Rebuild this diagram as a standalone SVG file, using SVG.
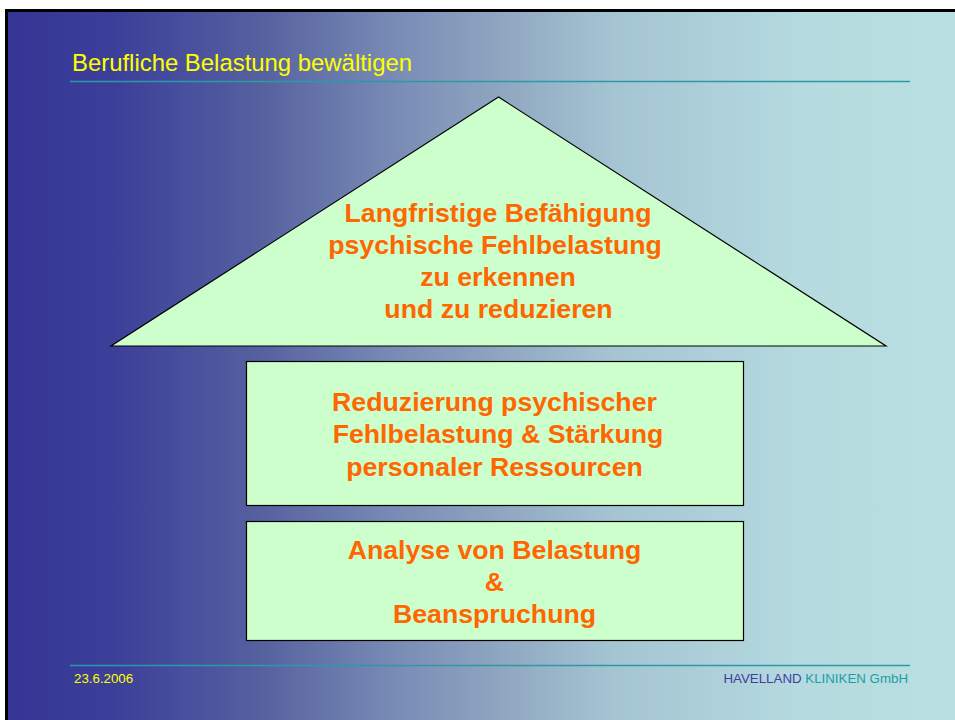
<svg xmlns="http://www.w3.org/2000/svg" width="955" height="720" viewBox="0 0 955 720">
<defs>
<linearGradient id="bg" x1="0" y1="0" x2="955" y2="0" gradientUnits="userSpaceOnUse">
<stop offset="0" stop-color="#343494"/>
<stop offset="0.12" stop-color="#3c3f9a"/>
<stop offset="0.27" stop-color="#55609f"/>
<stop offset="0.42" stop-color="#7a8db6"/>
<stop offset="0.52" stop-color="#8ea5c0"/>
<stop offset="0.64" stop-color="#a4c4d2"/>
<stop offset="0.84" stop-color="#b5dadf"/>
<stop offset="1" stop-color="#b9e0e1"/>
</linearGradient>
<style>
.shape{fill:#ccffcc;stroke:#000;stroke-width:1.2}
.lbl{font-family:"Liberation Sans",Arial,sans-serif;font-weight:bold;font-size:26.7px;fill:#ff6600;text-anchor:middle}
.rule{stroke:#2a9aa6;stroke-width:1.5}
.foot{font-family:"Liberation Sans",Arial,sans-serif;font-size:13.3px}
</style>
</defs>
<rect x="0" y="0" width="955" height="720" fill="#ffffff"/>
<rect x="6.5" y="10.5" width="1000" height="760" fill="url(#bg)" stroke="#000" stroke-width="3"/>
<text x="72" y="70.5" font-family="Liberation Sans, Arial, sans-serif" font-size="23.9" fill="#ffff00">Berufliche Belastung bewältigen</text>
<line class="rule" x1="70" y1="81.5" x2="910" y2="81.5"/>
<line class="rule" x1="70" y1="665.5" x2="910" y2="665.5"/>
<text class="foot" x="74" y="683" fill="#ffff00">23.6.2006</text>
<text class="foot" x="908" y="683" text-anchor="end"><tspan fill="#3e3e9e">HAVELLAND </tspan><tspan fill="#1a9ea6">KLINIKEN GmbH</tspan></text>
<g id="top-triangle">
<polygon class="shape" points="498.5,97 111,346 886,346"/>
<text class="lbl" x="498" y="222">Langfristige Befähigung</text>
<text class="lbl" x="495" y="254">psychische Fehlbelastung</text>
<text class="lbl" x="498" y="286">zu erkennen</text>
<text class="lbl" x="498.5" y="318">und zu reduzieren</text>
</g>
<g id="middle-box">
<rect class="shape" x="246.5" y="361.5" width="497" height="144"/>
<text class="lbl" x="494.5" y="411">Reduzierung psychischer</text>
<text class="lbl" x="498" y="443">Fehlbelastung &amp; Stärkung</text>
<text class="lbl" x="494.5" y="475.5">personaler Ressourcen</text>
</g>
<g id="bottom-box">
<rect class="shape" x="246.5" y="521.5" width="497" height="119"/>
<text class="lbl" x="494.5" y="559">Analyse von Belastung</text>
<text class="lbl" x="494.5" y="591">&amp;</text>
<text class="lbl" x="494.5" y="623">Beanspruchung</text>
</g>
<g id="connectors"/>
</svg>
